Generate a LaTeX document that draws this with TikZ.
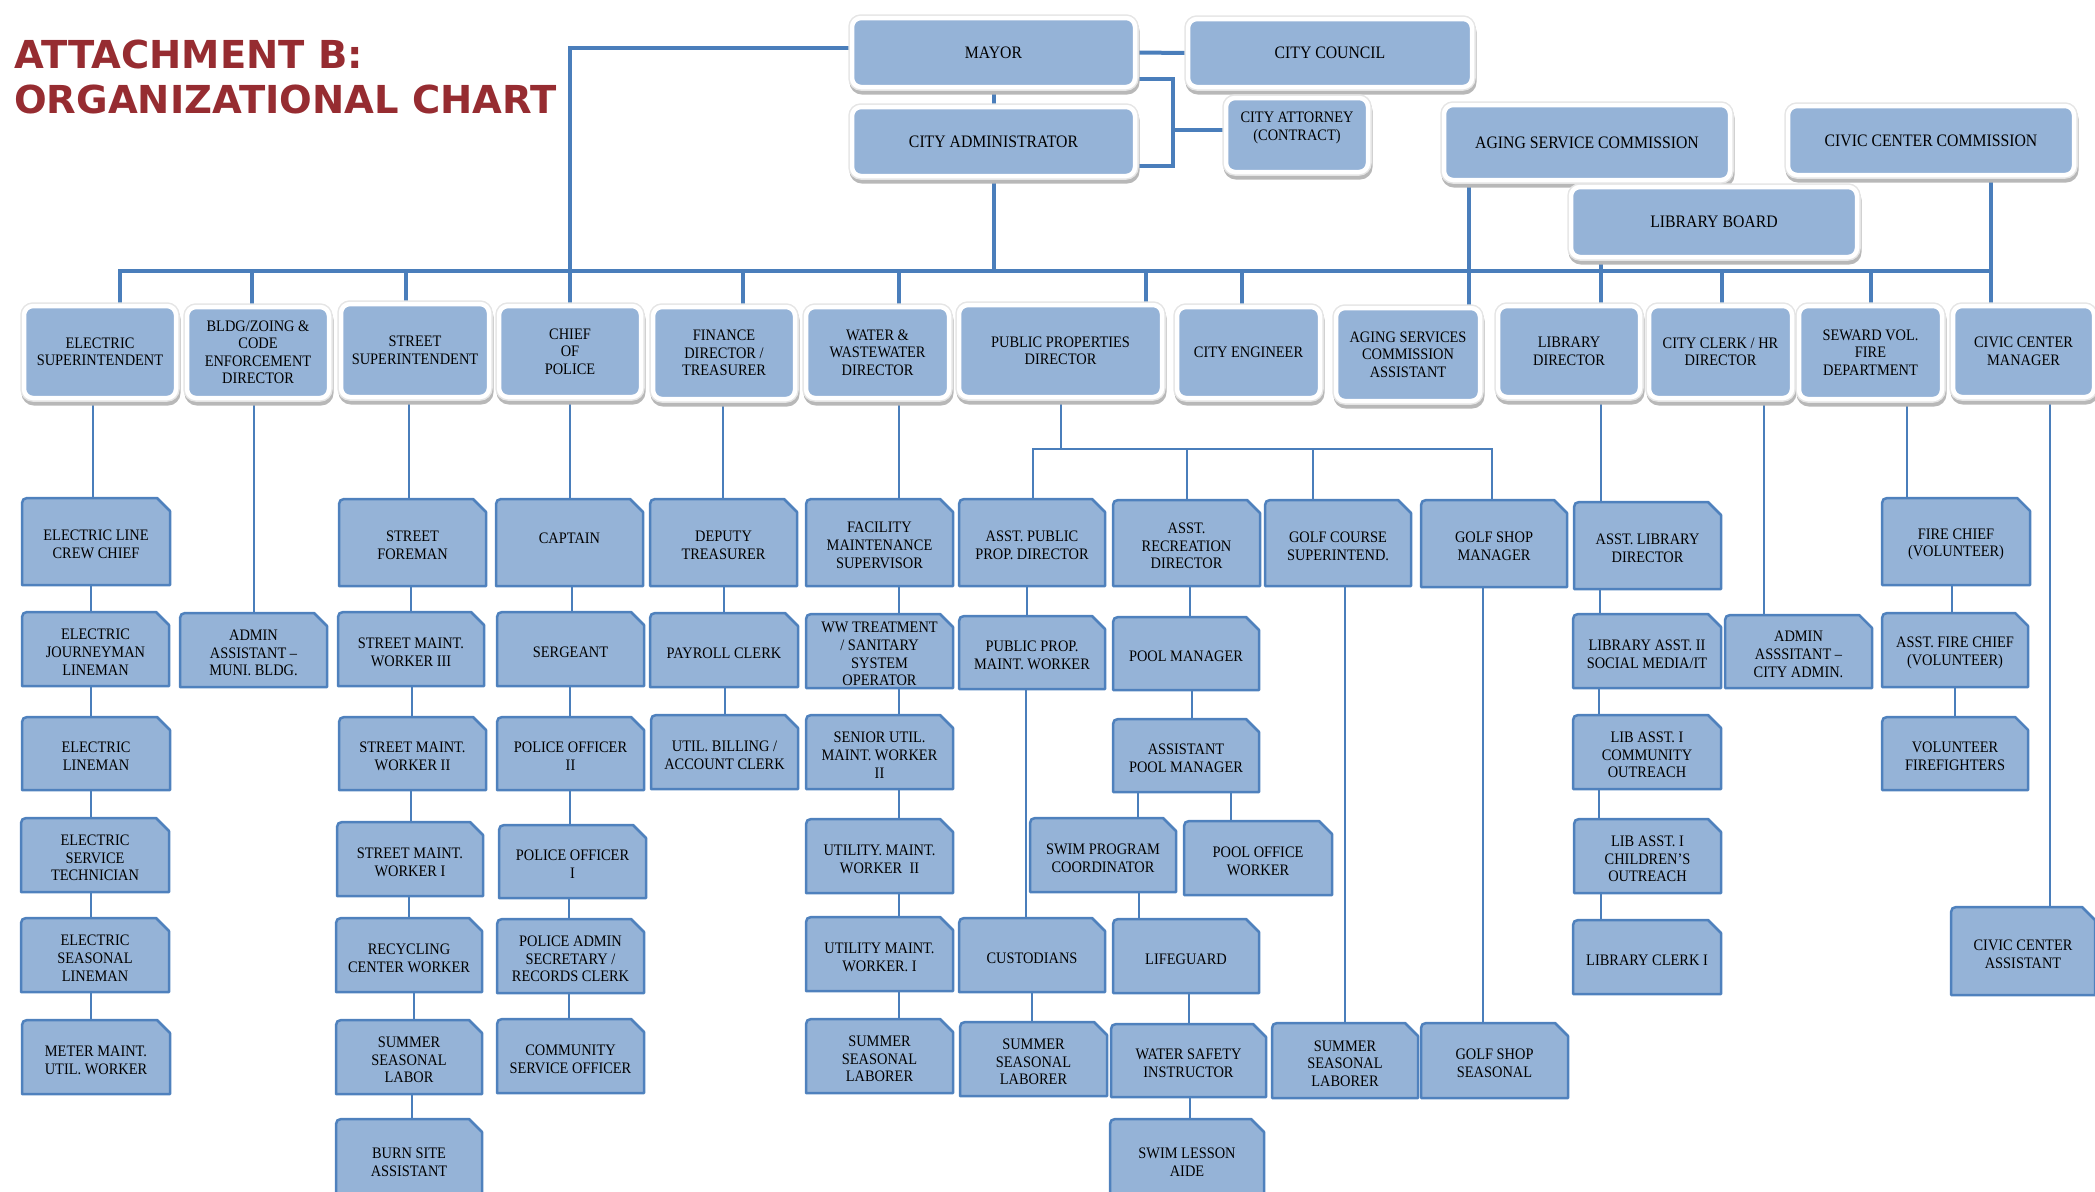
\documentclass[tikz,border=0pt]{standalone}
\usepackage{fontspec}
\setmainfont{Liberation Serif}[FakeStretch=0.9]
\newfontfamily\titlefont{DejaVu Sans}
\definecolor{boxfill}{HTML}{95B3D7}
\definecolor{boxline}{HTML}{4F81BD}
\definecolor{linkcol}{HTML}{4A7EBB}
\definecolor{titlered}{HTML}{962C31}
\pgfdeclarelayer{bg}
\pgfsetlayers{bg,main}
\tikzset{
  topbox/.style={rectangle, rounded corners=9pt, fill=boxfill, draw=white, line width=4.5pt,
    inner sep=0pt, align=center, font=\fontsize{16}{17.5}\selectfont,
    preaction={draw=black!28, fill=black!28, line width=7pt, transform canvas={xshift=1pt,yshift=-4pt}},
    preaction={draw=black!10, line width=7.5pt}},
  bigbox/.style={topbox, font=\fontsize{17.5}{19}\selectfont},
  lshape/.style={fill=boxfill, draw=boxline, line width=2.5pt, line join=round},
  ltext/.style={rectangle, draw=none, inner sep=0pt, align=center, font=\fontsize{16}{17.7}\selectfont},
  bus/.style={draw=linkcol, line width=4pt},
  link/.style={draw=linkcol, line width=2pt},
}
\newcommand\tbox[7][topbox]{\node[#1, minimum width={(#5-#3)*1pt}, minimum height={(#6-#4)*1pt}] (#2) at ({(#3+#5)/2},{(#4+#6)/2}) {#7};}
\newcommand\lbox[6]{%
  \path[lshape] (#2,#5) -- (#2,{#3+11}) .. controls (#2,#3) .. ({#2+11},#3) -- ({#4-13},#3) -- (#4,{#3+13}) -- (#4,#5) -- cycle;
  \node[ltext, minimum width={(#4-#2)*1pt}, minimum height={(#5-#3-6)*1pt}] (#1) at ({(#2+#4)/2},{(#3+#5)/2+3}) {#6};}
\newcommand\vl[4][link]{\coordinate (vx) at (#4,0); \draw[#1] (#2.south -| vx) -- (#3.north -| vx);}
\newcommand\bd[2]{\coordinate (vx) at (#2,271); \draw[bus] (vx) -- (#1.north -| vx);}
\begin{document}
\begin{tikzpicture}[x=1pt,y=-1pt]
\useasboundingbox (0,0) rectangle (2095,1191);
\clip (0,0) rectangle (2095,1191);

\node[anchor=north west, inner sep=0pt, align=left, text=titlered,
  font=\titlefont\bfseries\fontsize{38.5}{45}\selectfont] (title) at (14,40) {ATTACHMENT B:\\ORGANIZATIONAL CHART};

% top level
\tbox[bigbox]{mayor}{852}{18}{1135}{87}{MAYOR}
\tbox[bigbox]{council}{1188}{19}{1472}{87}{CITY COUNCIL}
\tbox[bigbox]{admin}{852}{107}{1135}{176}{CITY ADMINISTRATOR}
\tbox{attorney}{1226}{98}{1368}{172}{CITY ATTORNEY\\(CONTRACT)\\\mbox{}}
\tbox[bigbox]{agingc}{1444}{105}{1730}{180}{AGING SERVICE COMMISSION}
\tbox[bigbox]{civicc}{1788}{106}{2074}{175}{CIVIC CENTER COMMISSION}
\tbox[bigbox]{libboard}{1571}{187}{1857}{257}{LIBRARY BOARD}

% department heads
\tbox{elec}{24}{306}{176}{398}{ELECTRIC\\SUPERINTENDENT}
\tbox{bldg}{187}{307}{329}{398}{BLDG/ZOING \&\\CODE\\ENFORCEMENT\\DIRECTOR}
\tbox{street}{341}{304}{489}{397}{STREET\\SUPERINTENDENT}
\tbox{chief}{499}{306}{641}{397}{CHIEF\\OF\\POLICE}
\tbox{fin}{653}{307}{795}{399}{FINANCE\\DIRECTOR /\\TREASURER}
\tbox{water}{806}{307}{949}{398}{WATER \&\\WASTEWATER\\DIRECTOR}
\tbox{pp}{959}{305}{1162}{397}{PUBLIC PROPERTIES\\DIRECTOR}
\tbox{eng}{1177}{307}{1320}{398}{CITY ENGINEER}
\tbox{agingA}{1336}{308}{1480}{401}{AGING SERVICES\\COMMISSION\\ASSISTANT}
\tbox{libdir}{1498}{306}{1640}{397}{LIBRARY\\DIRECTOR}
\tbox{clerk}{1649}{306}{1792}{398}{CITY CLERK / HR\\DIRECTOR}
\tbox{seward}{1799}{306}{1942}{399}{SEWARD VOL.\\FIRE\\DEPARTMENT}
\tbox{civicm}{1953}{306}{2094}{397}{CIVIC CENTER\\MANAGER}

% electric
\lbox{crew}{22}{498}{170}{585}{ELECTRIC LINE\\CREW CHIEF}
\lbox{journey}{22}{612}{169}{686}{ELECTRIC\\JOURNEYMAN\\LINEMAN}
\lbox{lineman}{22}{717}{170}{790}{ELECTRIC\\LINEMAN}
\lbox{servtech}{21}{818}{169}{892}{ELECTRIC\\SERVICE\\TECHNICIAN}
\lbox{seasonal}{21}{918}{169}{992}{ELECTRIC\\SEASONAL\\LINEMAN}
\lbox{meter}{22}{1020}{170}{1094}{METER MAINT.\\UTIL. WORKER}
% bldg
\lbox{adminbldg}{180}{613}{327}{687}{ADMIN\\ASSISTANT –\\MUNI. BLDG.}
% street
\lbox{foreman}{339}{499}{486}{586}{STREET\\FOREMAN}
\lbox{smw3}{338}{612}{484}{686}{STREET MAINT.\\WORKER III}
\lbox{smw2}{339}{717}{486}{790}{STREET MAINT.\\WORKER II}
\lbox{smw1}{337}{822}{483}{896}{STREET MAINT.\\WORKER I}
\lbox{recyc}{336}{918}{482}{992}{RECYCLING\\CENTER WORKER}
\lbox{ssl}{336}{1020}{482}{1094}{SUMMER\\SEASONAL\\LABOR}
\lbox{burn}{336}{1119}{482}{1200}{BURN SITE\\ASSISTANT}
% police
\lbox{captain}{496}{499}{643}{586}{CAPTAIN\\[-4pt]\mbox{}}
\lbox{sergeant}{497}{612}{644}{686}{SERGEANT}
\lbox{po2}{497}{717}{644}{790}{POLICE OFFICER\\II}
\lbox{po1}{499}{825}{646}{898}{POLICE OFFICER\\I}
\lbox{padmin}{497}{919}{644}{993}{POLICE ADMIN\\SECRETARY /\\RECORDS CLERK}
\lbox{cso}{497}{1019}{644}{1093}{COMMUNITY\\SERVICE OFFICER}
% finance
\lbox{deputy}{650}{499}{797}{586}{DEPUTY\\TREASURER}
\lbox{payroll}{650}{613}{798}{687}{PAYROLL CLERK}
\lbox{billing}{651}{715}{798}{789}{UTIL. BILLING /\\ACCOUNT CLERK}
% water
\lbox{facility}{806}{499}{953}{586}{FACILITY\\MAINTENANCE\\SUPERVISOR}
\lbox{wwt}{806}{614}{953}{688}{WW TREATMENT\\/ SANITARY\\SYSTEM\\OPERATOR}
\lbox{sumw2}{806}{715}{953}{789}{SENIOR UTIL.\\MAINT. WORKER\\II}
\lbox{umw2}{806}{819}{953}{893}{UTILITY. MAINT.\\WORKER~~II}
\lbox{umw1}{806}{917}{953}{991}{UTILITY MAINT.\\WORKER. I}
\lbox{sslw}{806}{1019}{953}{1093}{SUMMER\\SEASONAL\\LABORER}
% public properties
\lbox{app}{959}{499}{1105}{586}{ASST. PUBLIC\\PROP. DIRECTOR}
\lbox{ard}{1113}{500}{1260}{586}{ASST.\\RECREATION\\DIRECTOR}
\lbox{gcs}{1265}{500}{1411}{586}{GOLF COURSE\\SUPERINTEND.}
\lbox{gsm}{1421}{500}{1567}{587}{GOLF SHOP\\MANAGER}
\lbox{ppmw}{959}{616}{1105}{689}{PUBLIC PROP.\\MAINT. WORKER}
\lbox{cust}{959}{918}{1105}{992}{CUSTODIANS}
\lbox{sslc}{960}{1022}{1107}{1096}{SUMMER\\SEASONAL\\LABORER}
\lbox{poolm}{1113}{617}{1259}{690}{POOL MANAGER}
\lbox{apm}{1113}{719}{1259}{792}{ASSISTANT\\POOL MANAGER}
\lbox{spc}{1030}{818}{1176}{892}{SWIM PROGRAM\\COORDINATOR}
\lbox{pow}{1184}{821}{1332}{895}{POOL OFFICE\\WORKER}
\lbox{lifeg}{1113}{919}{1259}{993}{LIFEGUARD}
\lbox{wsi}{1111}{1024}{1266}{1097}{WATER SAFETY\\INSTRUCTOR}
\lbox{sla}{1110}{1119}{1264}{1200}{SWIM LESSON\\AIDE}
\lbox{sslg}{1272}{1023}{1418}{1098}{SUMMER\\SEASONAL\\LABORER}
\lbox{gss}{1421}{1023}{1568}{1098}{GOLF SHOP\\SEASONAL}
% library
\lbox{ald}{1574}{502}{1721}{589}{ASST. LIBRARY\\DIRECTOR}
\lbox{la2}{1573}{614}{1721}{688}{LIBRARY ASST. II\\SOCIAL MEDIA/IT}
\lbox{la1c}{1573}{715}{1721}{789}{LIB ASST. I\\COMMUNITY\\OUTREACH}
\lbox{la1ch}{1574}{819}{1721}{893}{LIB ASST. I\\CHILDREN’S\\OUTREACH}
\lbox{lclerk}{1573}{920}{1721}{994}{LIBRARY CLERK I}
% clerk
\lbox{adminc}{1725}{615}{1872}{688}{ADMIN\\ASSSITANT –\\CITY ADMIN.}
% fire
\lbox{firechief}{1882}{498}{2030}{585}{FIRE CHIEF\\(VOLUNTEER)}
\lbox{afc}{1882}{613}{2028}{687}{ASST. FIRE CHIEF\\(VOLUNTEER)}
\lbox{vff}{1882}{717}{2028}{790}{VOLUNTEER\\FIREFIGHTERS}
% civic
\lbox{cca}{1951}{907}{2095}{995}{CIVIC CENTER\\ASSISTANT}

\begin{pgfonlayer}{bg}
% top structure
\draw[bus] (mayor.east) -- (council.west);
\draw[bus] (mayor.south) -- (admin.north);
\coordinate (bx1) at (1173,79);
\coordinate (bx2) at (1173,166);
\coordinate (bx3) at (1173,130);
\draw[bus] (mayor.east |- bx1) -- (bx1) -- (bx2) -- (admin.east |- bx2);
\draw[bus] (bx3) -- (attorney.west |- bx3);
\coordinate (mx) at (570,48);
\draw[bus] (mayor.west |- mx) -- (mx) -- (chief.north -| mx);
\coordinate (busL) at (120,271);
\coordinate (busR) at (1991,271);
\draw[bus] (admin.south) -- (admin.south |- busL);
\draw[bus] (elec.north -| busL) -- (busL) -- (busR);
\bd{bldg}{252}
\bd{street}{406}
\bd{fin}{743}
\bd{water}{899}
\bd{pp}{1146}
\bd{eng}{1242}
\bd{clerk}{1722}
\bd{seward}{1871}
\vl[bus]{agingc}{agingA}{1469}
\vl[bus]{libboard}{libdir}{1601}
\vl[bus]{civicc}{civicm}{1991}
% electric
\vl{elec}{crew}{93}
\vl{crew}{journey}{91}
\vl{journey}{lineman}{91}
\vl{lineman}{servtech}{91}
\vl{servtech}{seasonal}{91}
\vl{seasonal}{meter}{91}
\vl{bldg}{adminbldg}{254}
% street
\vl{street}{foreman}{409}
\vl{foreman}{smw3}{411}
\vl{smw3}{smw2}{412}
\vl{smw2}{smw1}{411}
\vl{smw1}{recyc}{409}
\vl{recyc}{ssl}{414}
\vl{ssl}{burn}{412}
% police
\vl{chief}{captain}{570}
\vl{captain}{sergeant}{572}
\vl{sergeant}{po2}{570}
\vl{po2}{po1}{570}
\vl{po1}{padmin}{569}
\vl{padmin}{cso}{569}
% finance
\vl{fin}{deputy}{723}
\vl{deputy}{payroll}{724}
\vl{payroll}{billing}{725}
% water
\vl{water}{facility}{899}
\vl{facility}{wwt}{899}
\vl{wwt}{sumw2}{899}
\vl{sumw2}{umw2}{899}
\vl{umw2}{umw1}{899}
\vl{umw1}{sslw}{899}
% public properties
\coordinate (ppj) at (1061,449);
\coordinate (ppa) at (1033,449);
\coordinate (ppb) at (1187,449);
\coordinate (ppc) at (1313,449);
\coordinate (ppd) at (1492,449);
\draw[link] (pp.south -| ppj) -- (ppj);
\draw[link] (app.north -| ppa) -- (ppa) -- (ppd) -- (gsm.north -| ppd);
\draw[link] (ppb) -- (ard.north -| ppb);
\draw[link] (ppc) -- (gcs.north -| ppc);
\vl{app}{ppmw}{1027}
\vl{ppmw}{cust}{1026}
\vl{cust}{sslc}{1032}
\vl{ard}{poolm}{1190}
\vl{poolm}{apm}{1192}
\vl{apm}{spc}{1138}
\vl{apm}{pow}{1231}
\vl{spc}{lifeg}{1139}
\vl{lifeg}{wsi}{1189}
\vl{wsi}{sla}{1190}
\vl{gcs}{sslg}{1345}
\vl{gsm}{gss}{1483}
% library
\vl{libdir}{ald}{1601}
\vl{ald}{la2}{1600}
\vl{la2}{la1c}{1599}
\vl{la1c}{la1ch}{1599}
\vl{la1ch}{lclerk}{1601}
% clerk
\vl{clerk}{adminc}{1764}
% fire
\vl{seward}{firechief}{1907}
\vl{firechief}{afc}{1952}
\vl{afc}{vff}{1955}
% civic
\vl{civicm}{cca}{2050}
\end{pgfonlayer}
\end{tikzpicture}
\end{document}
